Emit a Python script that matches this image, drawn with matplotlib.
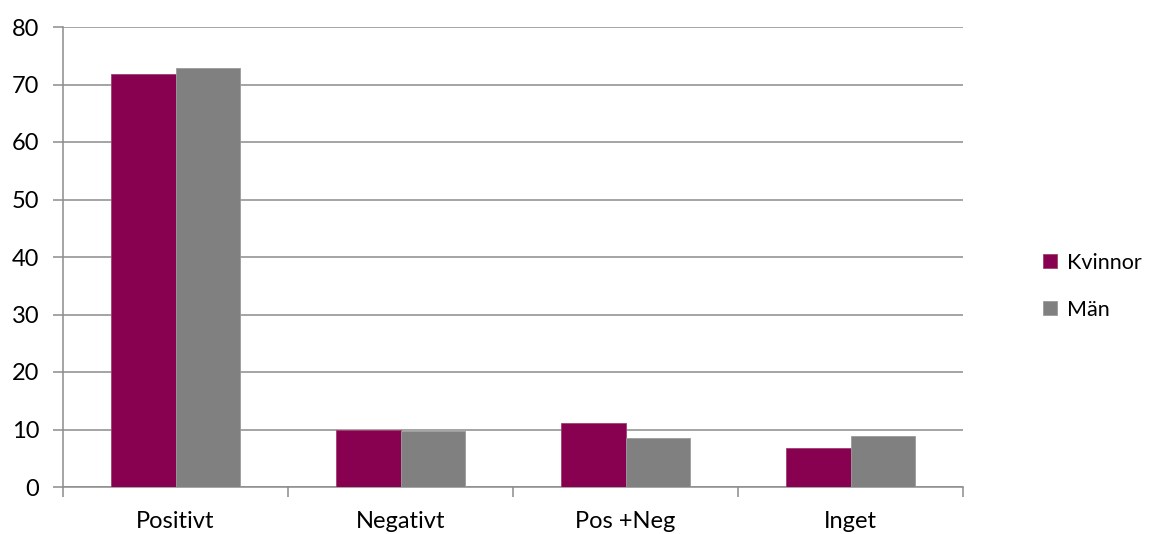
import numpy as np
import matplotlib
matplotlib.use("Agg")
import matplotlib.pyplot as plt

categories = ["Positivt", "Negativt", "Pos +Neg", "Inget"]
kvinnor = [71.9, 10.0, 11.2, 6.7]
man = [72.9, 9.7, 8.6, 8.8]

plt.rcParams["font.family"] = ["Lato", "DejaVu Sans"]

fig = plt.figure(figsize=(11.53, 5.34), dpi=100)
ax = fig.add_axes([63 / 1153, 47 / 534, 900 / 1153, 460 / 534])

x = np.arange(len(categories))
w = 0.285
ax.bar(x - w / 2, kvinnor, w, color="#880050", edgecolor="#a0406f", linewidth=0.6, label="Kvinnor", zorder=3)
ax.bar(x + w / 2, man, w, color="#808080", edgecolor="#9a9a9a", linewidth=0.6, label="Män", zorder=3)

ax.set_xlim(-0.5, len(categories) - 0.5)
ax.set_ylim(0, 80)
ax.set_yticks(range(0, 81, 10))
ax.yaxis.grid(True, color="#8c8c8c", linewidth=1.1)
ax.set_axisbelow(True)

# category labels between boundary tick marks
ax.set_xticks(np.arange(-0.5, len(categories), 1.0))
ax.set_xticklabels([])
ax.set_xticks(x, minor=True)
ax.set_xticklabels(categories, minor=True)
ax.tick_params(axis="x", which="minor", length=0, pad=17, labelsize=17)
ax.tick_params(axis="x", which="major", length=7, color="#8c8c8c", width=1.1)
ax.tick_params(axis="y", length=7, color="#8c8c8c", width=1.1, labelsize=17, pad=10)

for side in ["top", "right"]:
    ax.spines[side].set_visible(False)
for side in ["left", "bottom"]:
    ax.spines[side].set_color("#8c8c8c")
    ax.spines[side].set_linewidth(1.1)

fig.legend(loc="center left", bbox_to_anchor=(1043 / 1153, 0.464), frameon=False,
           fontsize=15.5, handlelength=0.65, handleheight=0.65, handletextpad=0.45,
           labelspacing=1.25, borderpad=0, borderaxespad=0)

fig.savefig("out.png", dpi=100)
